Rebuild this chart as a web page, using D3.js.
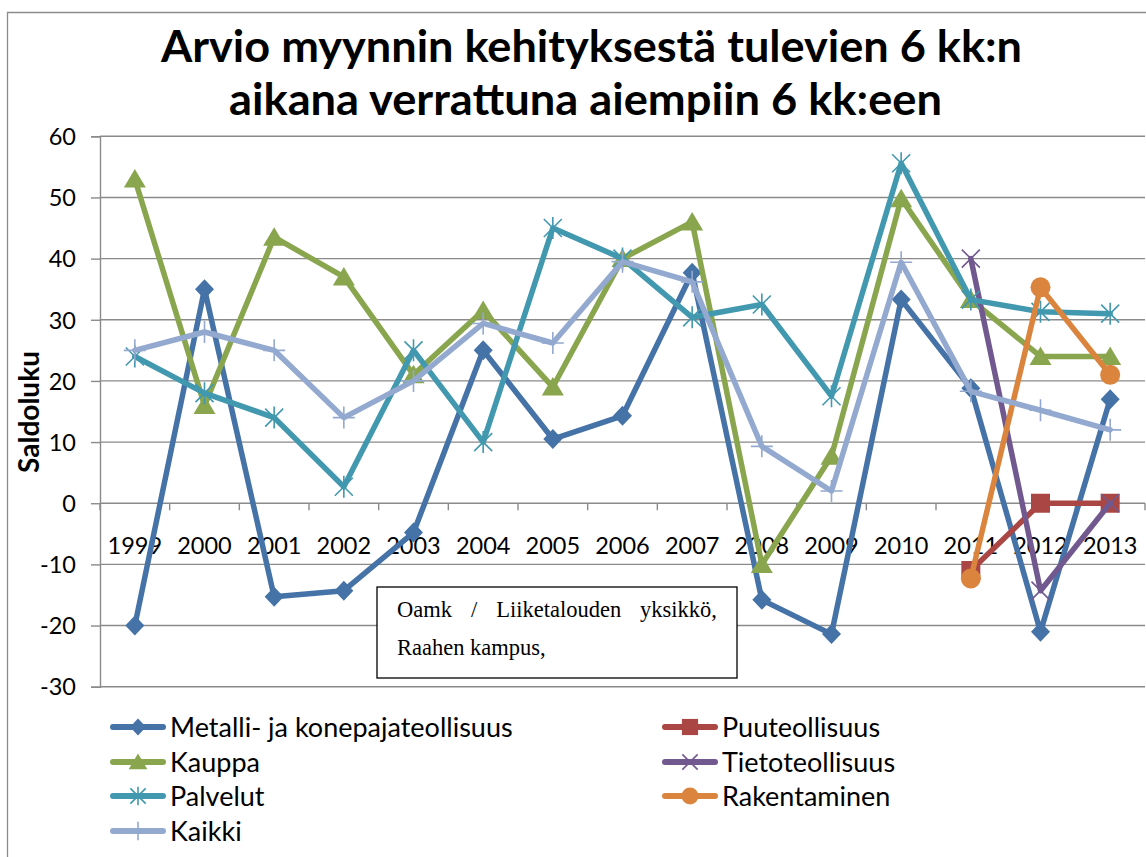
<!DOCTYPE html>
<html><head><meta charset="utf-8">
<script src="https://cdn.jsdelivr.net/npm/d3@7/dist/d3.min.js"></script>
<style>body{margin:0;background:#fff;} svg{display:block;}</style>
</head><body>
<svg id="c" width="1146" height="857"></svg>
<script>
const years = ["1999","2000","2001","2002","2003","2004","2005","2006","2007","2008","2009","2010","2011","2012","2013"];
const yTicks = [-30,-20,-10,0,10,20,30,40,50,60];
const metalli = [-20, 35, -15.3, -14.3, -4.8, 25, 10.5, 14.3, 37.7, -15.8, -21.4, 33.3, 18.8, -21, 17];
const puu = [null,null,null,null,null,null,null,null,null,null,null,null, -11, 0, 0];
const kauppa = [53, 16, 43.5, 37, 21, 31.5, 19, 40, 46, -10, 7.7, 49.8, 33.3, 24, 24];
const tieto = [null,null,null,null,null,null,null,null,null,null,null,null, 40, -14.3, 0];
const palvelut = [24, 18, 14, 2.7, 25, 10, 45, 40, 30.4, 32.5, 17.5, 55.6, 33.3, 31.3, 31];
const rakentaminen = [null,null,null,null,null,null,null,null,null,null,null,null, -12.3, 35.3, 21];
const kaikki = [25, 28, 25, 14, 20, 29.4, 26.2, 39.5, 36.2, 9.3, 2, 39.4, 18.3, 15.2, 12];
const seriesNames = ["Metalli- ja konepajateollisuus","Puuteollisuus","Kauppa","Tietoteollisuus","Palvelut","Rakentaminen","Kaikki"];
const titleLines = ["Arvio myynnin kehityksestä tulevien 6 kk:n","aikana verrattuna aiempiin 6 kk:een"];
const yLabel = "Saldoluku";
const noteWords = ["Oamk","/","Liiketalouden","yksikkö,"];
const noteLine2 = "Raahen kampus,";

const series = [
  {name:seriesNames[0], values:metalli, color:"#4572A7", marker:"diamond"},
  {name:seriesNames[1], values:puu, color:"#AA4643", marker:"square"},
  {name:seriesNames[2], values:kauppa, color:"#89A54E", marker:"triangle"},
  {name:seriesNames[3], values:tieto, color:"#71588F", marker:"x"},
  {name:seriesNames[4], values:palvelut, color:"#4198AF", marker:"star"},
  {name:seriesNames[5], values:rakentaminen, color:"#DB843D", marker:"circle"},
  {name:seriesNames[6], values:kaikki, color:"#93A9CF", marker:"plus"}
];

const svg = d3.select("#c");
const gridColor = "#8a8a8a";
const font = "Lato, 'Open Sans', sans-serif";

// outer border
svg.append("path").attr("d","M7.5,857 L7.5,12.5 L1146,12.5").attr("fill","none").attr("stroke","#8c8c8c").attr("stroke-width",1.3);

const plotL = 100, plotR = 1145, plotT = 136.3, plotB = 686.7;
const x = d3.scaleBand().domain(years).range([plotL, plotR]).paddingInner(0).paddingOuter(0);
const y = d3.scaleLinear().domain([-30, 60]).range([plotB, plotT]);
const cx = d => x(d) + x.bandwidth()/2;

// gridlines
svg.append("g").selectAll("line").data(yTicks).join("line")
  .attr("x1", plotL).attr("x2", plotR)
  .attr("y1", d=>y(d)).attr("y2", d=>y(d))
  .attr("stroke", gridColor).attr("stroke-width",1.4);

// y axis
const yAxis = svg.append("g").attr("transform",`translate(${plotL},0)`)
  .call(d3.axisLeft(y).tickValues(yTicks).tickSize(9).tickPadding(15).tickFormat(d=>String(d)));
yAxis.select(".domain").attr("stroke",gridColor).attr("stroke-width",1.4);
yAxis.selectAll(".tick line").attr("stroke",gridColor).attr("stroke-width",1.4);
yAxis.selectAll(".tick text").attr("font-family",font).attr("font-size",23.5).attr("fill","#000").attr("dy","0.35em");

// x axis at zero
const xAxis = svg.append("g").attr("transform",`translate(0,${y(0)})`)
  .call(d3.axisBottom(x).tickSize(0).tickPadding(34));
xAxis.select(".domain").remove();
xAxis.selectAll(".tick text").attr("font-family",font).attr("font-size",23.5).attr("fill","#000");
// boundary tick marks
const bounds = years.map(d=>x(d)).concat([plotR]);
svg.append("g").selectAll("line").data(bounds).join("line")
  .attr("x1",d=>d).attr("x2",d=>d).attr("y1",y(0)).attr("y2",y(0)+7)
  .attr("stroke",gridColor).attr("stroke-width",1.4);

// y label
svg.append("text").attr("transform",`translate(39,412) rotate(-90)`)
  .attr("text-anchor","middle").attr("font-family",font).attr("font-weight","bold")
  .attr("font-size",28).text(yLabel);

// title
const tPos = [{x:161,y:62,len:861},{x:229,y:115,len:713}];
titleLines.forEach((t,i)=>{
  svg.append("text").attr("x",tPos[i].x).attr("y",tPos[i].y)
    .attr("font-family",font).attr("font-weight","bold").attr("font-size",44)
    .attr("textLength",tPos[i].len).attr("lengthAdjust","spacingAndGlyphs")
    .text(t);
});

function drawMarker(g, type, color, px, py, scale){
  const s = scale||1;
  if(type==="diamond"){
    g.append("path").attr("d",`M${px},${py-10*s} L${px+9.5*s},${py} L${px},${py+10*s} L${px-9.5*s},${py} Z`).attr("fill",color);
  } else if(type==="square"){
    g.append("rect").attr("x",px-9.5*s).attr("y",py-9.5*s).attr("width",19*s).attr("height",19*s).attr("fill",color);
  } else if(type==="triangle"){
    g.append("path").attr("d",`M${px},${py-10*s} L${px+11*s},${py+8.5*s} L${px-11*s},${py+8.5*s} Z`).attr("fill",color);
  } else if(type==="circle"){
    g.append("circle").attr("cx",px).attr("cy",py).attr("r",10*s).attr("fill",color);
  } else if(type==="x"){
    const a=9*s;
    g.append("path").attr("d",`M${px-a},${py-a} L${px+a},${py+a} M${px-a},${py+a} L${px+a},${py-a}`).attr("stroke",color).attr("stroke-width",1.6).attr("fill","none");
  } else if(type==="star"){
    const a=9*s, v=11*s;
    g.append("path").attr("d",`M${px-a},${py-a} L${px+a},${py+a} M${px-a},${py+a} L${px+a},${py-a} M${px},${py-v} L${px},${py+v}`).attr("stroke",color).attr("stroke-width",1.6).attr("fill","none");
  } else if(type==="plus"){
    const a=11*s;
    g.append("path").attr("d",`M${px-a},${py} L${px+a},${py} M${px},${py-a} L${px},${py+a}`).attr("stroke",color).attr("stroke-width",1.6).attr("fill","none");
  }
}

const line = d3.line().defined(d=>d.v!==null).x(d=>cx(d.year)).y(d=>y(d.v));
const plotG = svg.append("g");
series.forEach(s=>{
  const pts = years.map((yr,i)=>({year:yr, v:s.values[i]}));
  const g = plotG.append("g");
  g.append("path").datum(pts).attr("d",line).attr("fill","none").attr("stroke",s.color)
    .attr("stroke-width",5.5).attr("stroke-linejoin","round").attr("stroke-linecap","round");
  pts.filter(p=>p.v!==null).forEach(p=>drawMarker(g, s.marker, s.color, cx(p.year), y(p.v), 1));
});

// note box
const box = svg.append("g");
box.append("rect").attr("x",377).attr("y",587).attr("width",360).attr("height",91)
  .attr("fill","#fff").attr("stroke","#000").attr("stroke-width",1.3);
const noteFont = "'Liberation Serif', 'DejaVu Serif', serif";
const ws = noteWords.map(w=>box.append("text").attr("y",617).attr("font-family",noteFont).attr("font-size",22.5).text(w));
const widths = ws.map(t=>t.node().getComputedTextLength());
const startX = 397, endX = 717;
const gap = (endX-startX-d3.sum(widths))/(noteWords.length-1);
let cur = startX;
ws.forEach((t,i)=>{ t.attr("x",cur); cur += widths[i]+gap; });
box.append("text").attr("x",397).attr("y",655).attr("font-family",noteFont).attr("font-size",22.5).text(noteLine2);

// legend
const legRows = [727,762,796,831];
const legend = svg.append("g");
series.forEach((s,i)=>{
  const col = i%2, row = Math.floor(i/2);
  const lx = col===0 ? 110 : 662;
  const ly = legRows[row];
  const g = legend.append("g");
  g.append("line").attr("x1",lx+3).attr("x2",lx+53).attr("y1",ly).attr("y2",ly)
    .attr("stroke",s.color).attr("stroke-width",6).attr("stroke-linecap","round");
  drawMarker(g, s.marker, s.color, lx+28, ly, 0.85);
  g.append("text").attr("x",lx+60).attr("y",ly).attr("dy","0.36em")
    .attr("font-family",font).attr("font-size",27).text(s.name);
});
</script>
</body></html>
